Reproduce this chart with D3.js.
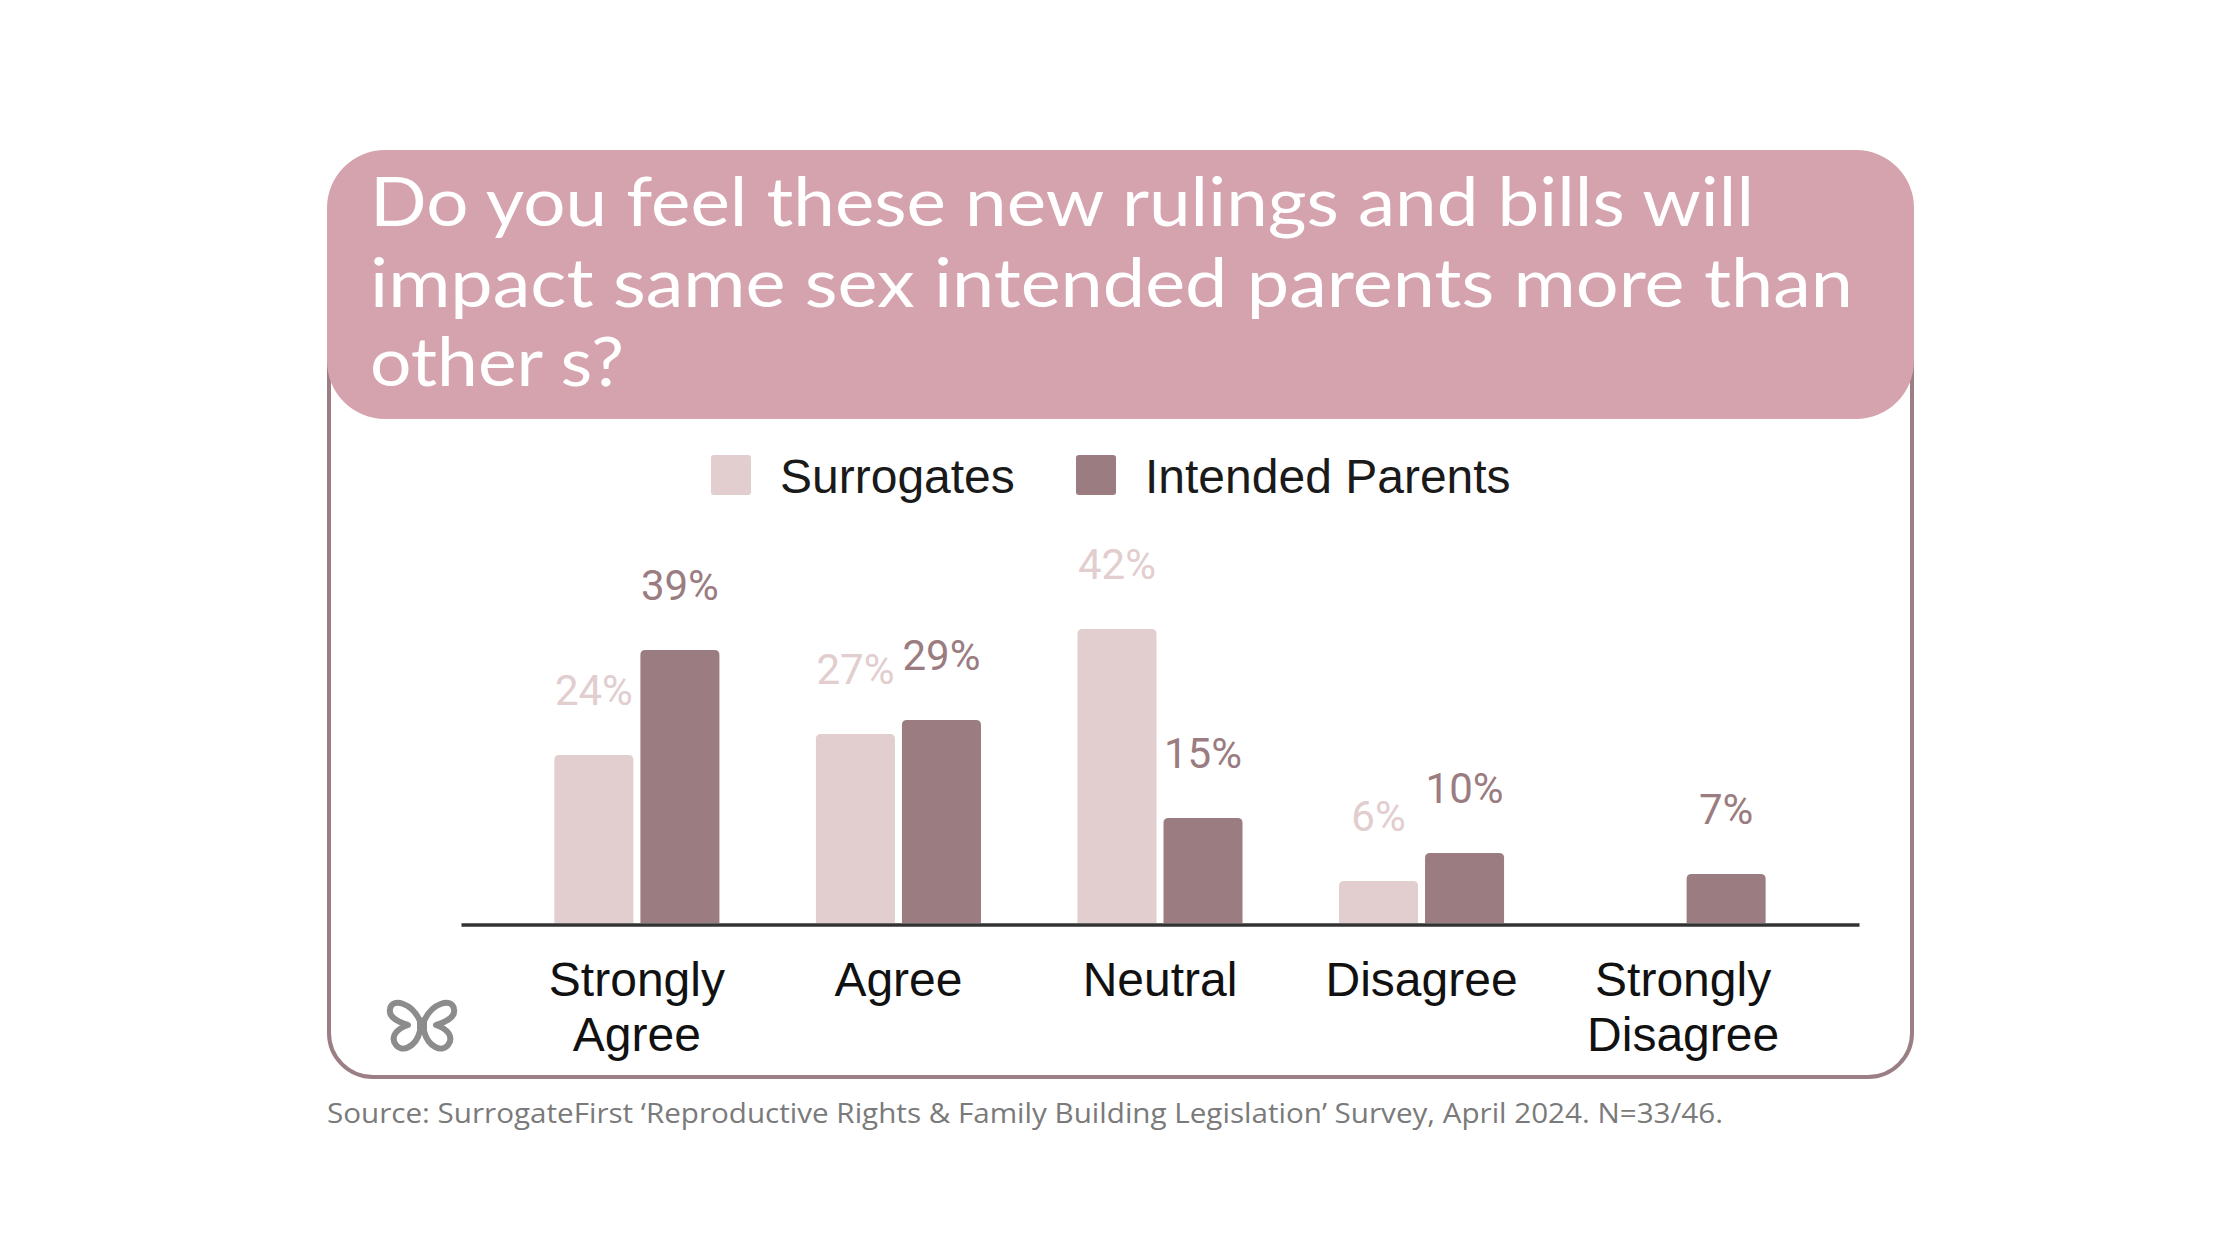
<!DOCTYPE html>
<html><head><meta charset="utf-8">
<script src="https://cdn.jsdelivr.net/npm/d3@7"></script>
<style>body{margin:0;background:#fff;overflow:hidden}</style>
</head><body>
<svg id="chart" width="2240" height="1260"></svg>
<script>
// ---- data ----
const categories = ["Strongly Agree", "Agree", "Neutral", "Disagree", "Strongly Disagree"];
const categoryLines = [["Strongly", "Agree"], ["Agree"], ["Neutral"], ["Disagree"], ["Strongly", "Disagree"]];
const seriesNames = ["Surrogates", "Intended Parents"];
const surrogates = [24, 27, 42, 6, 0];
const intendedParents = [39, 29, 15, 10, 7];
const titleLines = ["Do you feel these new rulings and bills will", "impact same sex intended parents more than", "other s?"];
const sourceText = "Source: SurrogateFirst \u2018Reproductive Rights & Family Building Legislation\u2019 Survey, April 2024. N=33/46.";

// ---- styles ----
const colors = {"Surrogates": "#e2cdcf", "Intended Parents": "#9a7c81"};
const headerColor = "#d4a3ad";
const borderColor = "#9b7f85";

const svg = d3.select("#chart");

// card
const card = {x: 327, y: 150, w: 1587, h: 929};
svg.append("rect").attr("x", card.x + 2).attr("y", card.y + 40).attr("width", card.w - 4).attr("height", card.h - 42)
  .attr("rx", 44).attr("fill", "#fff").attr("stroke", borderColor).attr("stroke-width", 4);
// header band
svg.append("rect").attr("x", card.x).attr("y", card.y).attr("width", card.w).attr("height", 269)
  .attr("rx", 58).attr("fill", headerColor);

const titleWidths = [1384, 1483, 254];
const titleBase = [226, 307, 386];
titleLines.forEach((t, i) => {
  svg.append("text").attr("x", 370).attr("y", titleBase[i])
    .attr("font-family", "Lato, 'Open Sans', sans-serif").attr("font-size", 68).attr("font-weight", 400)
    .attr("fill", "#fff").attr("textLength", titleWidths[i]).attr("lengthAdjust", "spacingAndGlyphs")
    .text(t);
});

// legend
const legendX = [711, 1076];
seriesNames.forEach((s, i) => {
  svg.append("rect").attr("x", legendX[i]).attr("y", 455).attr("width", 40).attr("height", 40).attr("rx", 3)
    .attr("fill", colors[s]);
  svg.append("text").attr("x", legendX[i] + 69).attr("y", 493)
    .attr("font-family", "'Liberation Sans', Arial, sans-serif").attr("font-size", 48).attr("fill", "#1a1a1a")
    .text(s);
});

// scales
const x0 = d3.scaleBand().domain(categories).range([461, 1859]).paddingInner(0.369).paddingOuter(0.357);
const x1 = d3.scaleBand().domain(seriesNames).range([0, x0.bandwidth()]).paddingInner(0.0814).paddingOuter(0);
const y = d3.scaleLinear().domain([0, 100]).range([923, 223]);

const rows = [];
categories.forEach((c, i) => {
  rows.push({cat: c, series: "Surrogates", v: surrogates[i]});
  rows.push({cat: c, series: "Intended Parents", v: intendedParents[i]});
});
const shown = rows.filter(d => d.v > 0);

function topRounded(x, yTop, w, h, r) {
  r = Math.min(r, h, w / 2);
  return `M${x},${yTop + h}V${yTop + r}Q${x},${yTop} ${x + r},${yTop}H${x + w - r}Q${x + w},${yTop} ${x + w},${yTop + r}V${yTop + h}Z`;
}

svg.append("g").selectAll("path").data(shown).join("path")
  .attr("d", d => topRounded(x0(d.cat) + x1(d.series), y(d.v), x1.bandwidth(), y(0) - y(d.v), 5))
  .attr("fill", d => colors[d.series]);

svg.append("g").selectAll("text").data(shown).join("text")
  .attr("x", d => x0(d.cat) + x1(d.series) + x1.bandwidth() / 2)
  .attr("y", d => y(d.v) - 50)
  .attr("text-anchor", "middle")
  .attr("font-family", "Roboto, sans-serif").attr("font-size", 42)
  .attr("fill", d => colors[d.series])
  .text(d => d.v + "%");

// axis baseline
const axis = svg.append("g").attr("transform", `translate(0,${y(0) + 1.5})`)
  .call(d3.axisBottom(x0).tickSize(0).tickFormat(""));
axis.select(".domain").attr("stroke", "#333").attr("stroke-width", 3.5);

// category labels
categories.forEach((c, i) => {
  const t = svg.append("text").attr("text-anchor", "middle")
    .attr("font-family", "'Liberation Sans', Arial, sans-serif").attr("font-size", 48).attr("fill", "#111");
  categoryLines[i].forEach((ln, j) => {
    t.append("tspan").attr("x", x0(c) + x0.bandwidth() / 2).attr("y", 996 + j * 55).text(ln);
  });
});

// logo (butterfly outline)
const logo = svg.append("g").attr("transform", "translate(422,1025)").attr("fill", "none")
  .attr("stroke", "#8c8c8c").attr("stroke-width", 6).attr("stroke-linejoin", "round");
logo.append("path").attr("d", "M-2,-4 C-10,-22 -30,-28 -32,-16 C-34,-6 -20,-2 -14,0 C-26,4 -32,12 -26,20 C-20,28 -6,22 -2,6 Z");
logo.append("path").attr("d", "M2,-4 C10,-22 30,-28 32,-16 C34,-6 20,-2 14,0 C26,4 32,12 26,20 C20,28 6,22 2,6 Z");

// source
svg.append("text").attr("x", 327).attr("y", 1123)
  .attr("font-family", "'Open Sans', sans-serif").attr("font-size", 28).attr("fill", "#7a7a7a")
  .attr("textLength", 1396).attr("lengthAdjust", "spacingAndGlyphs")
  .text(sourceText);
</script>
</body></html>
